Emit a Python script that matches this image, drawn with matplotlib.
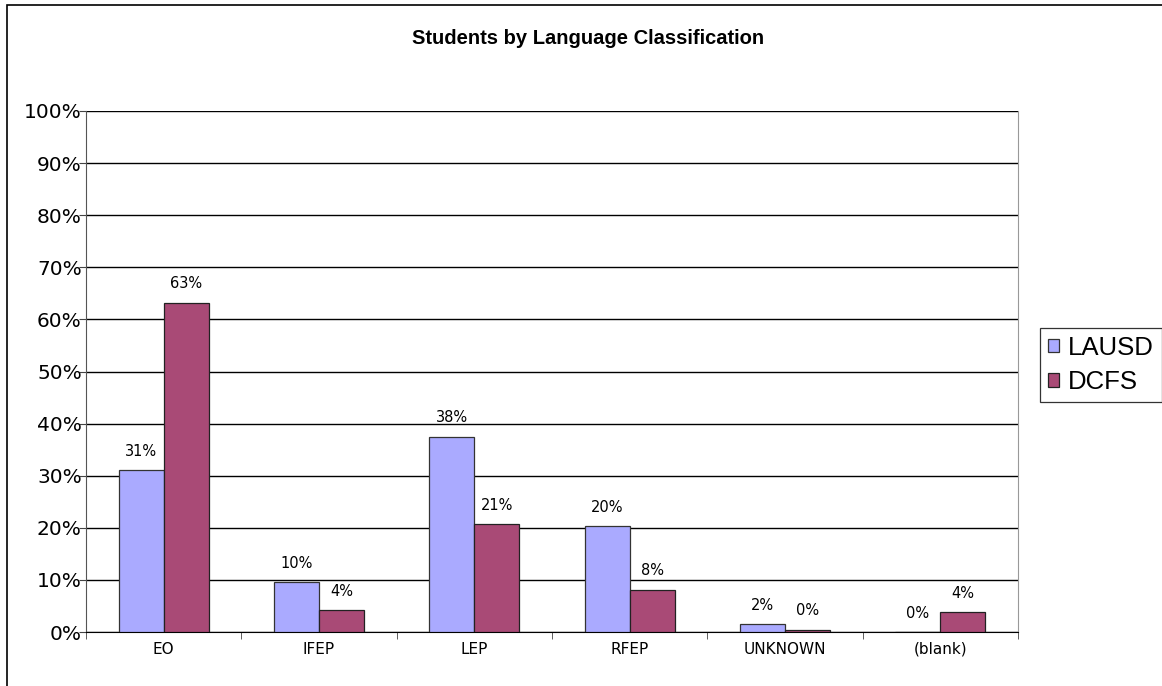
import matplotlib
matplotlib.use("Agg")
import matplotlib.pyplot as plt
import numpy as np
from matplotlib.patches import Rectangle

categories = ["EO", "IFEP", "LEP", "RFEP", "UNKNOWN", "(blank)"]
lausd = [31.1, 9.6, 37.5, 20.3, 1.5, 0.0]
dcfs = [63.2, 4.2, 20.7, 8.1, 0.4, 3.8]
lausd_labels = ["31%", "10%", "38%", "20%", "2%", "0%"]
dcfs_labels = ["63%", "4%", "21%", "8%", "0%", "4%"]
yticks = list(range(0, 101, 10))

fig = plt.figure(figsize=(11.62, 6.86), dpi=100)
W, H = 1162, 686
# plot area: x 86..1018, y 111..632 (pixels)
ax = fig.add_axes([86 / W, 1 - 632 / H, (1018 - 86) / W, (632 - 111) / H])

# outer chart border
fig.patches.append(Rectangle((7 / W, -0.05), 1.2, 1 - 5 / H + 0.05,
                             transform=fig.transFigure, fill=False,
                             edgecolor="black", linewidth=1.2))

x = np.arange(len(categories))
bw = 0.29
b1 = ax.bar(x - bw / 2, lausd, bw, color="#AAAAFF", edgecolor="#333333",
            linewidth=0.9, label="LAUSD", zorder=3)
b2 = ax.bar(x + bw / 2, dcfs, bw, color="#A94A76", edgecolor="#222222",
            linewidth=0.9, label="DCFS", zorder=3)

for xi, v, lab in zip(x - bw / 2, lausd, lausd_labels):
    ax.text(xi, v + 2.2, lab, ha="center", va="bottom", fontsize=10.5, zorder=4)
for xi, v, lab in zip(x + bw / 2, dcfs, dcfs_labels):
    ax.text(xi, v + 2.2, lab, ha="center", va="bottom", fontsize=10.5, zorder=4)

ax.set_xlim(-0.5, len(categories) - 0.5)
ax.set_ylim(0, 100)
ax.set_yticks(yticks)
ax.set_yticklabels([f"{t}%" for t in yticks], fontsize=14.5)
ax.yaxis.grid(True, color="black", linewidth=1.0, zorder=0)
ax.set_axisbelow(True)

ax.set_xticks(x)
ax.set_xticklabels(categories, fontsize=11)
ax.set_xticks(np.arange(-0.5, len(categories), 1.0), minor=True)
ax.tick_params(axis="x", which="major", length=0, pad=7)
ax.tick_params(axis="x", which="minor", length=5, direction="out", color="#444444")
ax.tick_params(axis="y", length=5, direction="out", color="#444444", pad=-2)

ax.spines["top"].set_visible(False)
ax.spines["left"].set_color("#555555")
ax.spines["right"].set_color("#999999")
ax.spines["bottom"].set_color("black")

fig.text(588 / W, 1 - 38 / H, "Students by Language Classification",
         ha="center", va="center", fontsize=14.5, fontweight="bold",
         family="Liberation Sans")

leg = fig.legend(handles=[b1, b2], loc="upper left",
                 bbox_to_anchor=(1040 / W, 1 - 328 / H),
                 prop={"family": "Liberation Sans", "size": 18.5},
                 frameon=True, fancybox=False, edgecolor="black",
                 handlelength=0.45, handleheight=0.45, handletextpad=0.35,
                 borderpad=0.3, labelspacing=0.4, borderaxespad=0)
leg.get_frame().set_linewidth(0.9)

fig.savefig("out.png", dpi=100)
